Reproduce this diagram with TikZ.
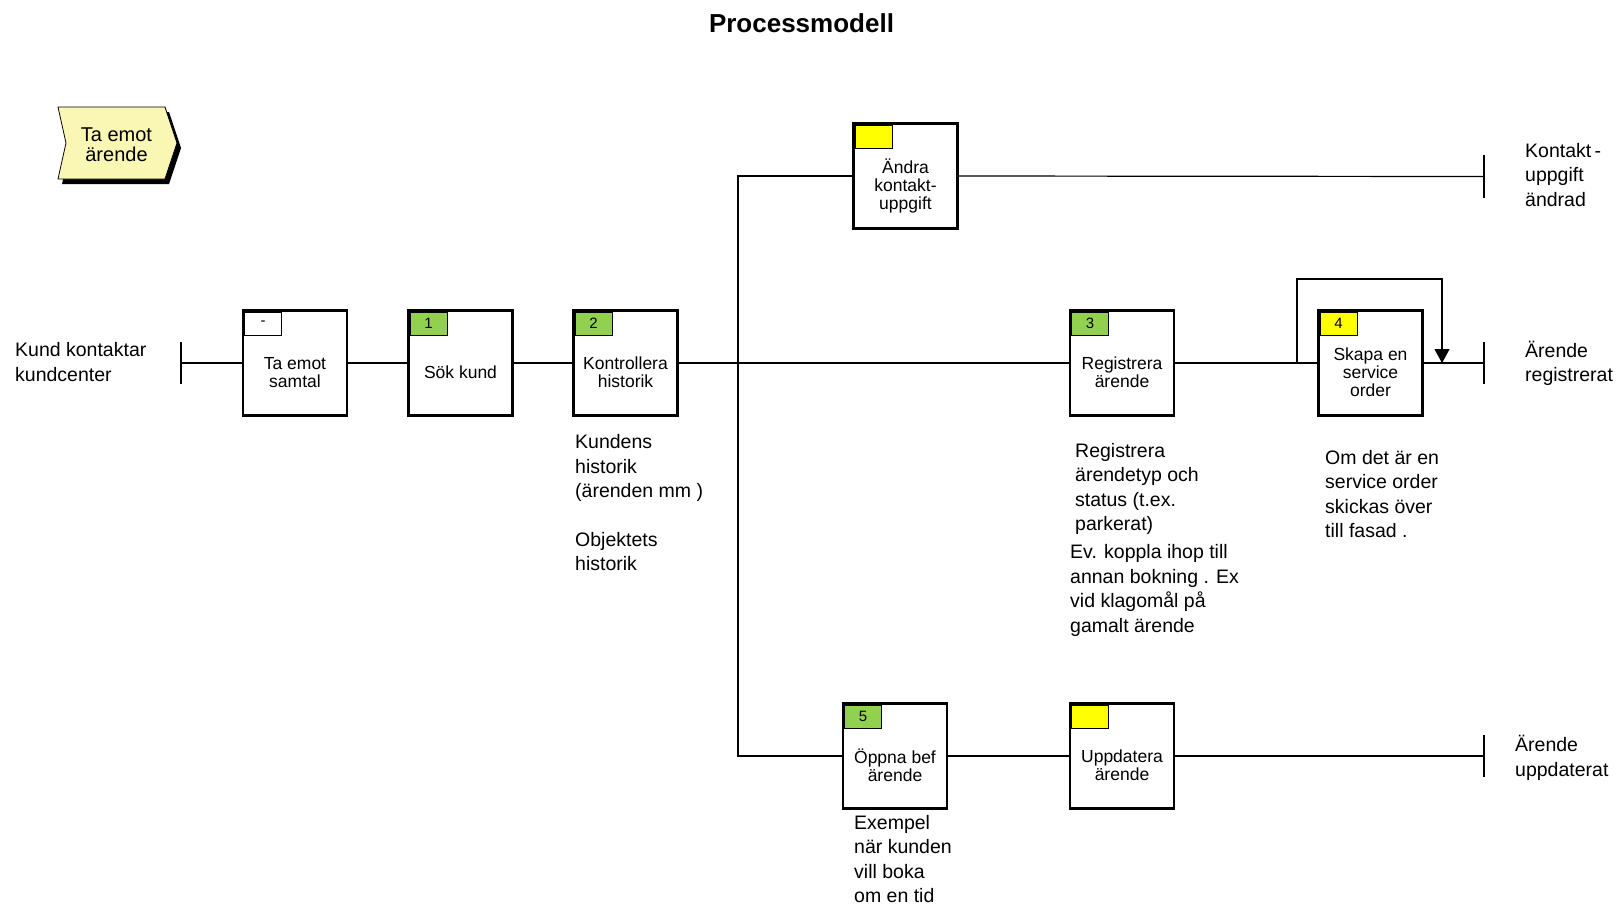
\documentclass[tikz,border=0pt]{standalone}
\usepackage{fontspec}
\setmainfont{Liberation Sans}
\usetikzlibrary{arrows.meta}

\definecolor{evtfill}{RGB}{250,246,180}
\definecolor{tgreen}{RGB}{146,208,80}
\definecolor{tyellow}{RGB}{255,255,0}

\tikzset{
  x=1pt, y=-1pt,
  flow/.style={line width=1.2pt},
  fn/.style={draw, line width=2.4pt, fill=white, minimum width=104pt,
             minimum height=105pt, inner sep=0pt, outer sep=0pt},
  tagbox/.style={draw, line width=0.9pt, minimum width=37pt, minimum height=23pt,
                 inner sep=0pt, anchor=north west,
                 font=\fontsize{15}{15}\selectfont},
  fntext/.style={align=center, inner sep=0pt,
                 font=\fontsize{17.5}{18}\selectfont},
  % notes are placed by the baseline of their last line
  note/.style={align=left, anchor=base west, inner sep=0pt,
               font=\fontsize{19.5}{24.5}\selectfont},
  endbar/.style={line width=1.2pt},
  loopArrow/.style={flow, -{Triangle[width=15pt,length=14pt]}}
}

% one function box: name, x, y, tag colour, tag text, label
\newcommand\procstep[6]{%
  \node[fn] (#1) at (#2,#3) {};
  \node[tagbox, fill=#4] (#1-tag) at ([shift={(1.2pt,-1.2pt)}]#1.north west) {#5};
  \node[fntext] (#1-txt) at ([yshift=-9.5pt]#1.center) {#6};
}

\begin{document}
\begin{tikzpicture}
\useasboundingbox (0,0) rectangle (1616,906);

% title
\node[font=\bfseries\fontsize{26}{26}\selectfont, inner sep=0pt] (title) at (801.5,23) {Processmodell};

% start event (chevron with shadow)
\fill[black] (62,112) -- (169,112) -- (181,148) -- (169,184) -- (62,184) -- (70,148) -- cycle;
\filldraw[fill=evtfill, draw=black, line width=0.8pt]
  (58,107) -- (165,107) -- (177,143) -- (165,179) -- (58,179) -- (66,143) -- cycle;
\node[align=center, inner sep=0pt, font=\fontsize{20}{20}\selectfont] (evt) at (116.5,145) {Ta emot\\ärende};

% function boxes
\procstep{b0}{295}{363}{white}{-}{Ta emot\\samtal}
\procstep{b1}{460.5}{363}{tgreen}{1}{Sök kund}
\procstep{b2}{625.5}{363}{tgreen}{2}{Kontrollera\\historik}
\procstep{b3}{905.5}{176}{tyellow}{}{Ändra\\kontakt-\\uppgift}
\procstep{b4}{1122}{363}{tgreen}{3}{Registrera\\ärende}
\procstep{b5}{1370.5}{363}{tyellow}{4}{Skapa en\\service\\order}
\procstep{b6}{895}{756}{tgreen}{5}{Öppna bef\\ärende}
\procstep{b7}{1122}{756}{tyellow}{}{Uppdatera\\ärende}

% start and end bars
\coordinate (s0) at (181,363);
\coordinate (eA) at (1484,176.5);
\coordinate (eB) at (1484,363);
\coordinate (eC) at (1484,756);
\draw[endbar] ([yshift=21pt]s0) -- ([yshift=-21pt]s0);
\draw[endbar] ([yshift=21.5pt]eA) -- ([yshift=-21.5pt]eA);
\draw[endbar] ([yshift=21pt]eB) -- ([yshift=-21pt]eB);
\draw[endbar] ([yshift=21pt]eC) -- ([yshift=-21pt]eC);

% connectors
\coordinate (split) at (738,363);
\draw[flow] (s0) -- (b0.west);
\draw[flow] (b0.east) -- (b1.west);
\draw[flow] (b1.east) -- (b2.west);
\draw[flow] (b2.east) -- (b4.west);
\draw[flow] (split) |- (b3.west);
\draw[flow] (split) |- (b6.west);
\draw[flow] (b3.east) -- (eA);
\draw[flow] (b4.east) -- (b5.west);
\draw[flow] (b5.east) -- (eB);
\draw[flow] (b6.east) -- (b7.west);
\draw[flow] (b7.east) -- (eC);

% feedback loop around box 4
\coordinate (lp0) at (1297,363);
\coordinate (lp1) at (1297,279);
\coordinate (lp2) at (1442,279);
\coordinate (lp3) at (1442,363);
\draw[loopArrow] (lp0) -- (lp1) -- (lp2) -- (lp3);

% event and note texts
\node[note] (tStart) at (15,381) {Kund kontaktar\\kundcenter};
\node[note] (tEndA) at (1525,206) {Kontakt\,-\\uppgift\\ändrad};
\node[note] (tEndB) at (1525,381.5) {Ärende\\registrerat};
\node[note] (tEndC) at (1515,776) {Ärende\\uppdaterat};
\node[note] (n1) at (575,497.5) {Kundens\\historik\\(ärenden mm )};
\node[note] (n2) at (575,570.5) {Objektets\\historik};
\node[note] (n3) at (1075,530.5) {Registrera\\ärendetyp och\\status (t.ex.\\parkerat)};
\node[note] (n4) at (1070,632) {Ev. koppla ihop till\\annan bokning . Ex\\vid klagomål på\\gamalt ärende};
\node[note] (n5) at (1325,537.5) {Om det är en\\service order\\skickas över\\till fasad .};
\node[note] (n6) at (854,902.5) {Exempel\\när kunden\\vill boka\\om en tid};
\end{tikzpicture}
\end{document}
